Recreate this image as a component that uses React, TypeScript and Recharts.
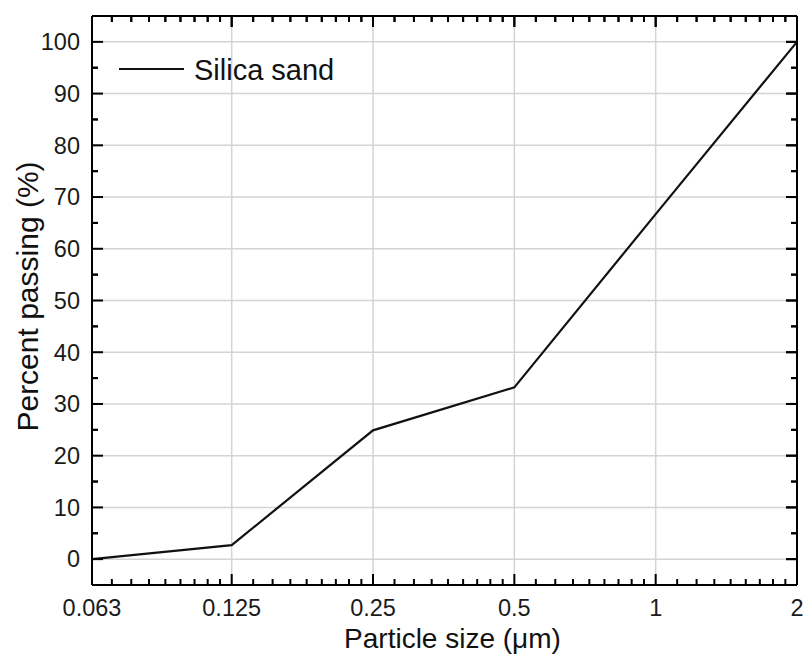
import React from 'react';
import { LineChart, Line, XAxis, YAxis, CartesianGrid, Legend, Label, ReferenceLine } from 'recharts';

// ---- data ----
const particleSize = [0.063, 0.125, 0.25, 0.5, 1, 2];
const percentPassing = [0, 2.7, 24.9, 33.2, 66.7, 100];
const xTicks = [0.063, 0.125, 0.25, 0.5, 1, 2];
const xMinorBases = [0.0625, 0.125, 0.25, 0.5, 1];
const yTicks = [0, 10, 20, 30, 40, 50, 60, 70, 80, 90, 100];
const yMinorTicks = [5, 15, 25, 35, 45, 55, 65, 75, 85, 95];
const seriesName = 'Silica sand';
const xTitle = 'Particle size (μm)';
const yTitle = 'Percent passing (%)';

const data = particleSize.map((s, i) => ({ size: s, passing: percentPassing[i] }));
const xMinorTicks = xMinorBases.flatMap((v) => [1, 2, 3, 4, 5, 6, 7, 8].map((k) => v * (1 + k / 9)));

const FONT = '"Liberation Sans", Arial, sans-serif';
const CHART_W = 803;
const CHART_H = 660;
const MARGIN = { top: 16, right: 6, bottom: 0, left: 0 };
const Y_AXIS_W = 92;
const X_AXIS_H = 75;
const PLOT_W = CHART_W - MARGIN.left - MARGIN.right - Y_AXIS_W;
const PLOT_H = CHART_H - MARGIN.top - MARGIN.bottom - X_AXIS_H;

const xDomain: [number, number] = [0.063, 2];
const yDomain: [number, number] = [-5, 105];
const tickLineStyle = { stroke: '#000', strokeWidth: 2 };
const axisLineStyle = { stroke: '#000', strokeWidth: 2 };
const THIN = 0.01;
const MAJ_PX = 11;
const MIN_PX = 6;
const noLabel = () => <g />;

const yPerPx = (yDomain[1] - yDomain[0]) / PLOT_H;
const lnXPerPx = Math.log(xDomain[1] / xDomain[0]) / PLOT_W;

type Seg = { key: string; p: [{ x: number; y: number }, { x: number; y: number }] };
const frameTicks: Seg[] = [
  ...xTicks.map((v) => ({ key: 'tM' + v, p: [{ x: v, y: yDomain[1] }, { x: v, y: yDomain[1] - MAJ_PX * yPerPx }] as Seg['p'] })),
  ...xMinorTicks.map((v) => ({ key: 'tm' + v, p: [{ x: v, y: yDomain[1] }, { x: v, y: yDomain[1] - MIN_PX * yPerPx }] as Seg['p'] })),
  ...yTicks.map((t) => ({ key: 'rM' + t, p: [{ x: xDomain[1], y: t }, { x: xDomain[1] * Math.exp(-MAJ_PX * lnXPerPx), y: t }] as Seg['p'] })),
  ...yMinorTicks.map((t) => ({ key: 'rm' + t, p: [{ x: xDomain[1], y: t }, { x: xDomain[1] * Math.exp(-MIN_PX * lnXPerPx), y: t }] as Seg['p'] })),
  ...yMinorTicks.map((t) => ({ key: 'lm' + t, p: [{ x: xDomain[0], y: t }, { x: xDomain[0] * Math.exp(MIN_PX * lnXPerPx), y: t }] as Seg['p'] })),
];

// hidden series that bind each frame-tick axis to the data
const hiddenX = ['bMin', 'tMaj', 'tMin'];
const hiddenY = ['lMin', 'rMaj', 'rMin'];

const LegendContent = () => (
  <svg width={260} height={40} style={{ display: 'block' }}>
    <line x1={0} x2={65} y1={19} y2={19} stroke="#111" strokeWidth={2} />
    <text x={75} y={30} fontSize={29} fill="#111" fontFamily={FONT}>{seriesName}</text>
  </svg>
);

export default function App() {
  return (
    <div style={{ position: 'absolute', left: 0, top: 0, fontFamily: FONT, background: '#fff' }}>
      <LineChart width={CHART_W} height={CHART_H} data={data} margin={MARGIN}>
        <CartesianGrid stroke="#d4d4d4" strokeWidth={1.5} />
        <XAxis
          dataKey="size"
          type="number"
          scale="log"
          domain={xDomain}
          allowDataOverflow
          ticks={xTicks}
          interval={0}
          tickFormatter={(v) => String(v)}
          height={X_AXIS_H}
          tickLine={tickLineStyle}
          tickSize={-MAJ_PX}
          tickMargin={25}
          axisLine={axisLineStyle}
          tick={{ fontSize: 23.5, fill: '#1a1a1a' }}
        >
          <Label
            content={({ viewBox }: any) => (
              <text x={viewBox.x + viewBox.width / 2 + 8} y={viewBox.y + 63} textAnchor="middle" fontSize={28} fill="#111" fontFamily={FONT}>
                {xTitle}
              </text>
            )}
          />
        </XAxis>
        <XAxis xAxisId="bMin" dataKey="size" orientation="bottom" mirror height={THIN} type="number" scale="log" domain={xDomain} allowDataOverflow ticks={xMinorTicks} interval={0} tick={noLabel} tickSize={MIN_PX} tickLine={tickLineStyle} axisLine={false} />
        <XAxis xAxisId="tMaj" dataKey="size" orientation="top" mirror height={THIN} type="number" scale="log" domain={xDomain} allowDataOverflow ticks={xTicks} interval={0} tick={noLabel} tickSize={MAJ_PX} tickLine={tickLineStyle} axisLine={axisLineStyle} />
        <XAxis xAxisId="tMin" dataKey="size" orientation="top" mirror height={THIN} type="number" scale="log" domain={xDomain} allowDataOverflow ticks={xMinorTicks} interval={0} tick={noLabel} tickSize={MIN_PX} tickLine={tickLineStyle} axisLine={false} />
        <YAxis
          type="number"
          domain={yDomain}
          allowDataOverflow
          ticks={yTicks}
          interval={0}
          width={Y_AXIS_W}
          tickLine={tickLineStyle}
          tickSize={-MAJ_PX}
          tickMargin={23}
          axisLine={axisLineStyle}
          tick={{ fontSize: 23.5, fill: '#1a1a1a' }}
        >
          <Label
            content={({ viewBox }: any) => {
              const x = 38;
              const y = viewBox.y + viewBox.height / 2 - 4;
              return (
                <text x={x} y={y} transform={`rotate(-90, ${x}, ${y})`} textAnchor="middle" fontSize={30} fill="#111" fontFamily={FONT}>
                  {yTitle}
                </text>
              );
            }}
          />
        </YAxis>
        <YAxis yAxisId="lMin" orientation="left" mirror width={THIN} type="number" domain={yDomain} allowDataOverflow ticks={yMinorTicks} interval={0} tick={noLabel} tickSize={MIN_PX} tickLine={tickLineStyle} axisLine={false} />
        <YAxis yAxisId="rMaj" orientation="right" mirror width={THIN} type="number" domain={yDomain} allowDataOverflow ticks={yTicks} interval={0} tick={noLabel} tickSize={MAJ_PX} tickLine={tickLineStyle} axisLine={axisLineStyle} />
        <YAxis yAxisId="rMin" orientation="right" mirror width={THIN} type="number" domain={yDomain} allowDataOverflow ticks={yMinorTicks} interval={0} tick={noLabel} tickSize={MIN_PX} tickLine={tickLineStyle} axisLine={false} />
        {frameTicks.map((s) => (
          <ReferenceLine key={s.key} segment={s.p} stroke="#000" strokeWidth={2} ifOverflow="visible" />
        ))}
        <Legend
          layout="vertical"
          verticalAlign="middle"
          align="center"
          content={() => <LegendContent />}
          wrapperStyle={{ left: 119, top: 50, width: 260 }}
        />
        {hiddenX.map((id) => (
          <Line key={'hx' + id} xAxisId={id} yAxisId={0} dataKey="passing" stroke="none" strokeWidth={0} dot={false} activeDot={false} legendType="none" isAnimationActive={false} />
        ))}
        {hiddenY.map((id) => (
          <Line key={'hy' + id} xAxisId={0} yAxisId={id} dataKey="passing" stroke="none" strokeWidth={0} dot={false} activeDot={false} legendType="none" isAnimationActive={false} />
        ))}
        <Line
          dataKey="passing"
          name={seriesName}
          stroke="#111"
          strokeWidth={2.2}
          dot={false}
          activeDot={false}
          isAnimationActive={false}
        />
      </LineChart>
    </div>
  );
}
